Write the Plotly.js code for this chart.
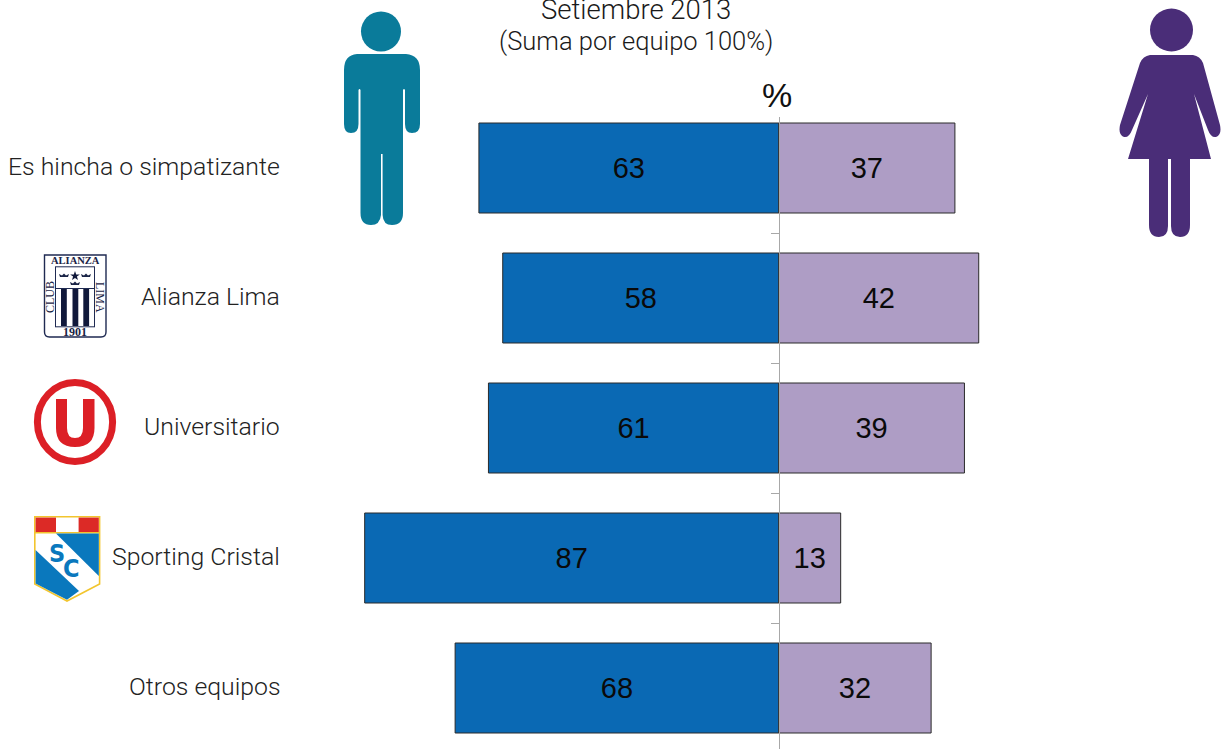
<!DOCTYPE html>
<html><head><meta charset="utf-8">
<script src="https://cdn.plot.ly/plotly-3.0.1.min.js"></script>
<style>html,body{margin:0;padding:0;background:#fff;overflow:hidden}#c{width:1221px;height:749px}</style>
</head><body><div id="c"></div>
<script>
const categories = ['Es hincha o simpatizante','Alianza Lima','Universitario','Sporting Cristal','Otros equipos'];
const hombres = [63,58,61,87,68];
const mujeres = [37,42,39,13,32];
const tickPositions = [0.5,1.5,2.5,3.5];
const W=1221,H=749;
const px=x=>x/W, py=y=>1-y/H;
const font='Roboto, "Liberation Sans", Arial, sans-serif';
function svgImg(x,y,w,h,inner){
  const s=`<svg xmlns="http://www.w3.org/2000/svg" width="${w*3}" height="${h*3}" viewBox="${x} ${y} ${w} ${h}">${inner}</svg>`;
  return {source:'data:image/svg+xml;charset=utf-8,'+encodeURIComponent(s),xref:'paper',yref:'paper',x:px(x),y:py(y),sizex:w/W,sizey:h/H,xanchor:'left',yanchor:'top',sizing:'stretch',layer:'above'};
}
const man=`<circle cx="381" cy="31.5" r="20" fill="#0a7b9a"/><path fill="#0a7b9a" d="M357,54 L406,54 Q420,55 420,70 L420,124 Q420,133 412,133 Q405,133 405,124 L405,90 Q404,88 403,90 L403,213 Q403,225 392,225 Q383,225 382.6,215 L382.6,154 L381,154 L381,215 Q380,225 371,225 Q360.5,225 360.5,213 L360.5,90 Q359.5,88 358.5,90 L358.5,124 Q358.5,133 351,133 Q344,133 344,124 L344,70 Q344,55 357,54 Z"/>`;
const woman=`<circle cx="1171.5" cy="30" r="21.5" fill="#4a2d78"/><path fill="#4a2d78" d="M1150,55 L1193,55 Q1200,56 1203,63 L1220,125 Q1222,135 1216,137 Q1211,138 1208,130 L1194,94 L1211,159 L1190,159 L1190,225 Q1190,237 1180,237 Q1171,237 1171,226 L1171,159 L1168,159 L1168,226 Q1168,237 1159,237 Q1149,237 1149,225 L1149,159 L1128,159 L1148,94 L1132,130 Q1129,138 1124,137 Q1118,135 1120,125 L1140,63 Q1143,56 1150,55 Z"/>`;
const crown=(x,y)=>`<path fill="#1a2446" d="M${x-4},${y} L${x+4},${y} L${x+5},${y-3} L${x+2},${y-1.5} L${x},${y-3.5} L${x-2},${y-1.5} L${x-5},${y-3} Z"/>`;
const alianza=`<path fill="#fff" stroke="#1f2a52" stroke-width="1.4" d="M44.5,255 L106,255 L106,332 Q106,337 101,337 L49.5,337 Q44.5,337 44.5,332 Z"/>
<rect x="55.5" y="266.8" width="39" height="60" fill="#fff" stroke="#1f2a52" stroke-width="1"/>
<line x1="55.5" x2="94.5" y1="288.5" y2="288.5" stroke="#1f2a52" stroke-width="1"/>
<rect x="61" y="289" width="5.8" height="37" fill="#10183a"/><rect x="72.5" y="289" width="5.8" height="37" fill="#10183a"/><rect x="83.3" y="289" width="5.8" height="37" fill="#10183a"/>
${crown(64,277)}${crown(86,277)}${crown(75,285)}
<path fill="#10183a" d="M75,271 L76.2,274.4 L79.8,274.4 L76.9,276.5 L78,280 L75,277.9 L72,280 L73.1,276.5 L70.2,274.4 L73.8,274.4 Z"/>`;
const udep=`<ellipse cx="75" cy="422" rx="37.6" ry="39.5" fill="#fff" stroke="#dc1f26" stroke-width="7"/>
<path fill="#dc1f26" d="M56,399 L67,399 L67,428 Q67,438 75,438 Q83,438 83,428 L83,399 L94.5,399 L94.5,428 Q94.5,447 75,447 Q56,447 56,428 Z"/>`;
const cristal=`<path fill="#fff" stroke="#f2c52e" stroke-width="1.6" d="M34.8,516.8 L99.6,516.8 L99.6,584 L67,601 L34.8,584 Z"/>
<rect x="35.6" y="517.6" width="20.4" height="14.6" fill="#dc2a26"/><rect x="78.6" y="517.6" width="20.2" height="14.6" fill="#dc2a26"/>
<line x1="35" x2="99.5" y1="532.8" y2="532.8" stroke="#f2c52e" stroke-width="1.4"/>
<path fill="#0a78bd" d="M56,533.6 L98.8,533.6 L98.8,576 Z"/>
<path fill="#0a78bd" d="M35.6,550 L79,591 L67,599.8 L35.6,583.4 Z"/>`;
const images=[svgImg(340,5,84,225,man),svgImg(1115,5,106,235,woman),svgImg(42,252,67,88,alianza),svgImg(32,376,86,92,udep),svgImg(33,515,68,88,cristal)];

const note=(text,x,y,size,extra={})=>Object.assign({text,xref:'paper',yref:'paper',x:px(x),y:py(y),xanchor:'center',yanchor:'middle',showarrow:false,font:{family:font,size,color:'#1a1a1a',weight:300}},extra);
const serif='"Liberation Serif", "DejaVu Serif", serif';
const cond='"DejaVu Sans Condensed","Liberation Sans",sans-serif';
const annotations=[
  note('Setiembre 2013',636,9,27.5),
  note('(Suma por equipo 100%)',636,41,25.5),
  note('%',777,95,34,{font:{family:'"Liberation Sans",Arial,sans-serif',size:34,color:'#111'}}),
  ...categories.map(c=>({text:c,xref:'paper',yref:'y',x:px(282),y:c,yshift:1.5,xanchor:'right',yanchor:'middle',showarrow:false,font:{family:font,size:24.8,color:'#222',weight:300}})),
  note('ALIANZA',75,261,10.5,{font:{family:serif,size:10.5,color:'#1a2446',weight:700}}),
  note('CLUB',50,297,12,{textangle:-90,font:{family:serif,size:12,color:'#1a2446'}}),
  note('LIMA',100,297,12,{textangle:90,font:{family:serif,size:12,color:'#1a2446'}}),
  note('1901',75,332,12,{font:{family:serif,size:12,color:'#1a2446',weight:700}}),
  note('S',56.5,553,25,{font:{family:cond,size:25,color:'#0a78bd',weight:700}}),
  note('C',71,568,25,{font:{family:cond,size:25,color:'#0a78bd',weight:700}})
];
const bar=(name,x,text,color)=>({type:'bar',orientation:'h',name,y:categories,x,text:text.map(String),textposition:'inside',insidetextanchor:'middle',textangle:0,constraintext:'none',cliponaxis:false,
  insidetextfont:{family:'"Liberation Sans",Arial,sans-serif',size:29,color:'#0a0a0a'},marker:{color,line:{color:'#2a2a2a',width:1}},hoverinfo:'skip'});
const unit=4.76, zero=778.8;
Plotly.newPlot('c',[
  bar('Hombres',hombres.map(v=>-v),hombres,'#0a69b4'),
  bar('Mujeres',mujeres,mujeres,'#ae9dc5')
],{
  width:W,height:H,margin:{l:0,r:0,t:0,b:0,pad:0},paper_bgcolor:'#fff',plot_bgcolor:'rgba(0,0,0,0)',
  showlegend:false,barmode:'relative',bargap:40/130,images,annotations,
  xaxis:{range:[(0-zero)/unit,(W-zero)/unit],domain:[0,1],visible:false,fixedrange:true},
  yaxis:{type:'category',categoryorder:'array',categoryarray:categories,range:[(749-168)/130,(117-168)/130],domain:[0,(749-117)/749],
    anchor:'free',position:zero/W,side:'left',showline:true,linecolor:'#a8a8a8',linewidth:1,showgrid:false,zeroline:false,
    tickmode:'array',tickvals:tickPositions,ticktext:tickPositions.map(()=>''),ticks:'outside',ticklen:8,tickcolor:'#a8a8a8',tickwidth:1,showticklabels:false,fixedrange:true}
},{displayModeBar:false,staticPlot:true});
</script></body></html>
